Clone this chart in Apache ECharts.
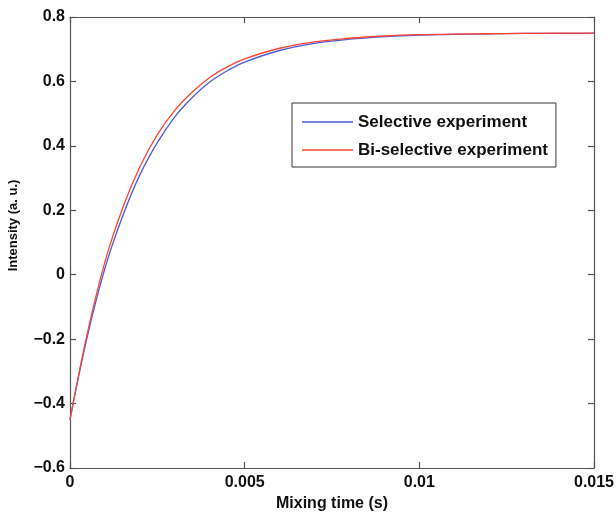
<!DOCTYPE html>
<html>
<head>
<meta charset="utf-8">
<script src="https://cdn.jsdelivr.net/npm/echarts@6/dist/echarts.min.js"></script>
<style>
html, body { margin: 0; padding: 0; background: #fff; }
#chart { width: 616px; height: 513px; }
</style>
</head>
<body>
<div id="chart"></div>
<script>
// mixing time (s)
var times = [0, 0.0005, 0.001, 0.0015, 0.002, 0.0025, 0.003, 0.0035, 0.004, 0.0045, 0.005,
	0.006, 0.007, 0.008, 0.009, 0.010, 0.011, 0.012, 0.013, 0.014, 0.015];
var selective = [-0.45, -0.19, 0.02, 0.18, 0.31, 0.41, 0.49, 0.550, 0.598, 0.633, 0.660,
	0.696, 0.718, 0.731, 0.739, 0.744, 0.746, 0.748, 0.749, 0.749, 0.75];
var biSelective = [-0.45, -0.18, 0.04, 0.205, 0.335, 0.435, 0.51, 0.567, 0.612, 0.645, 0.670,
	0.703, 0.723, 0.734, 0.741, 0.745, 0.747, 0.748, 0.749, 0.75, 0.75];
var seriesNames = ['Selective experiment', 'Bi-selective experiment'];

function pairs(ys) {
	var out = [];
	for (var i = 0; i < times.length; i++) out.push([times[i], ys[i]]);
	return out;
}
function fmtY(v) {
	var r = Math.round(v * 10) / 10;
	if (r === 0) return '0';
	return (r < 0 ? '\u2212' : '') + Math.abs(r).toFixed(1);
}
function fmtX(v) {
	return String(+v.toFixed(3));
}

var axisColor = '#555';
var font = 'Liberation Sans';
var labelFont = { color: '#111', fontWeight: 'bold', fontSize: 16, fontFamily: font };
function axisLine() {
	return { show: true, onZero: false, lineStyle: { color: axisColor, width: 1.2 } };
}
function axisTick() {
	return { show: true, inside: true, length: 6, lineStyle: { color: axisColor, width: 1.2 } };
}

var option = {
	animation: false,
	backgroundColor: '#fff',
	grid: { left: 70, right: 22, top: 17, bottom: 45, containLabel: false, outerBoundsMode: 'none' },
	legend: {
		orient: 'vertical',
		left: 292,
		top: 103,
		padding: [10, 8, 8, 10],
		itemWidth: 51,
		itemHeight: 1.5,
		itemGap: 10,
		borderColor: '#333',
		borderWidth: 1,
		backgroundColor: '#fff',
		icon: 'rect',
		textStyle: { color: '#111', fontWeight: 'bold', fontSize: 17, lineHeight: 18, fontFamily: font },
		data: seriesNames
	},
	xAxis: [{
		type: 'value', min: 0, max: 0.015, interval: 0.005,
		name: 'Mixing time (s)', nameLocation: 'middle', nameGap: 27,
		nameTextStyle: { color: '#111', fontWeight: 'bold', fontSize: 16, fontFamily: font },
		axisLine: axisLine(), axisTick: axisTick(),
		axisLabel: Object.assign({ margin: 7, formatter: fmtX }, labelFont),
		splitLine: { show: false }
	}, {
		type: 'value', position: 'top', min: 0, max: 0.015, interval: 0.005,
		axisLine: axisLine(), axisTick: axisTick(),
		axisLabel: { show: false }, splitLine: { show: false }
	}],
	yAxis: [{
		type: 'value', min: -0.6, max: 0.8, interval: 0.2,
		name: 'Intensity (a. u.)', nameLocation: 'middle', nameGap: 50,
		nameTextStyle: { color: '#111', fontWeight: 'bold', fontSize: 13, fontFamily: font, padding: [0, 0, 0, 34] },
		axisLine: axisLine(), axisTick: axisTick(),
		axisLabel: Object.assign({ margin: 5, formatter: fmtY }, labelFont),
		splitLine: { show: false }
	}, {
		type: 'value', position: 'right', min: -0.6, max: 0.8, interval: 0.2,
		axisLine: axisLine(), axisTick: axisTick(),
		axisLabel: { show: false }, splitLine: { show: false }
	}],
	series: [{
		name: seriesNames[0], type: 'line', data: pairs(selective), smooth: 0.4,
		showSymbol: false, symbol: 'none', color: '#4b5bd6',
		lineStyle: { width: 1.3, color: '#4b5bd6' }, z: 2
	}, {
		name: seriesNames[1], type: 'line', data: pairs(biSelective), smooth: 0.4,
		showSymbol: false, symbol: 'none', color: '#ff4434',
		lineStyle: { width: 1.3, color: '#ff4434' }, z: 3
	}]
};

var chart = echarts.init(document.getElementById('chart'));
chart.setOption(option);
</script>
</body>
</html>
